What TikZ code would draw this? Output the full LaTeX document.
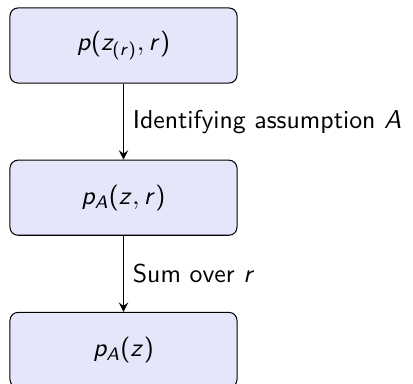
\documentclass[tikz,border=0pt]{standalone}
\usetikzlibrary{positioning}

% sans-serif math, slanted letters as on slides
\DeclareSymbolFont{operators}{OT1}{cmss}{m}{n}
\DeclareSymbolFont{sfletters}{OT1}{cmss}{m}{sl}
\DeclareMathSymbol{p}{\mathalpha}{sfletters}{`p}
\DeclareMathSymbol{r}{\mathalpha}{sfletters}{`r}
\DeclareMathSymbol{z}{\mathalpha}{sfletters}{`z}
\DeclareMathSymbol{A}{\mathalpha}{sfletters}{`A}
\definecolor{boxfill}{RGB}{230, 230, 250}

\begin{document}
\sffamily
\begin{tikzpicture}[x=0.3876pt, y=-0.3876pt,
	 stage/.style = {draw, fill = boxfill, rounded corners = 3.1pt,
	 	minimum width = 88pt, minimum height = 29.1pt},
	 flow/.style = {semithick, -stealth},
	 node distance = 29.5pt]
	 \useasboundingbox (0, 0) rectangle (413, 384);
	 
	 \node[stage] (joint) at (123.5, 45.5) {$p(z_{(r)}, r)$};
	 \node[stage, below = of joint] (ident) {$p_A(z, r)$};
	 \node[stage, below = of ident] (marg) {$p_A(z)$};
	 
	 \draw[flow] (joint) -- node[right] {Identifying assumption $A$} (ident);
	 \draw[flow] (ident) -- node[right] {Sum over $r$} (marg);
\end{tikzpicture}
\end{document}
